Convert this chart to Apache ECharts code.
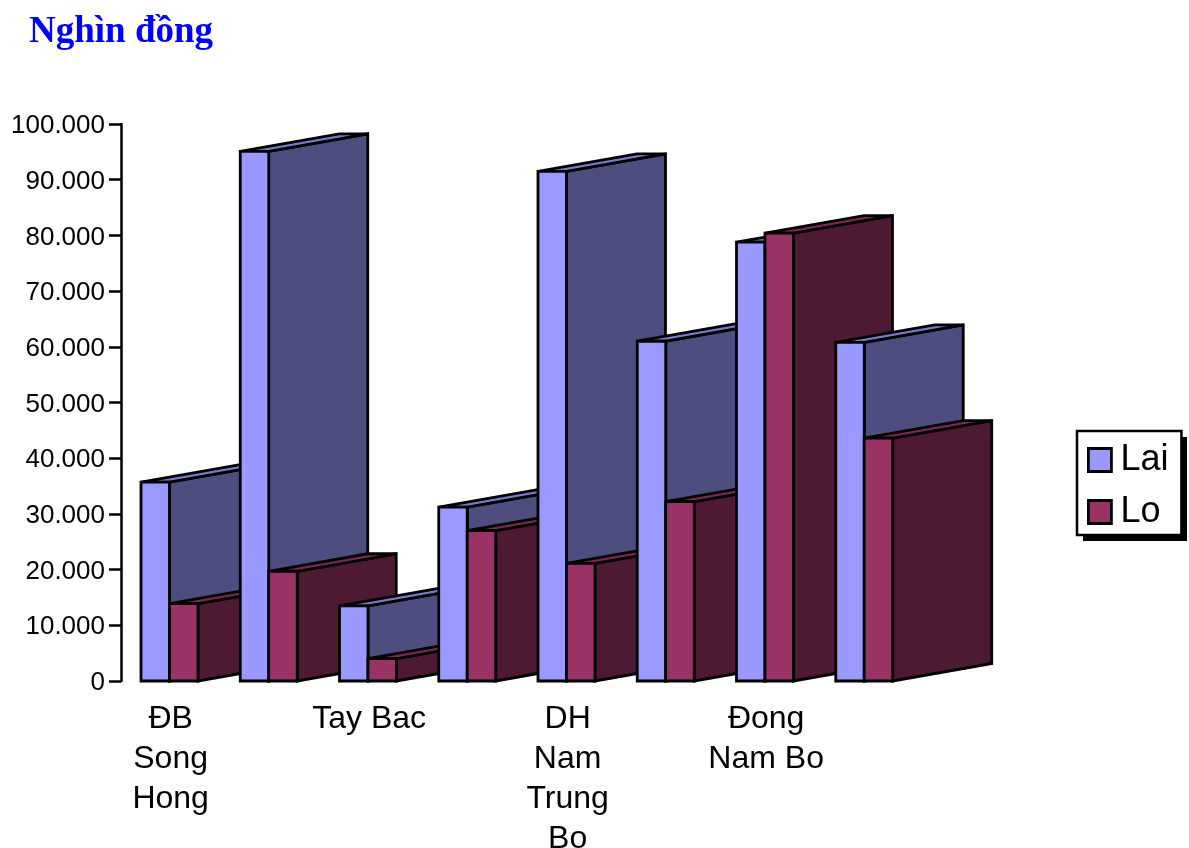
<!DOCTYPE html>
<html>
<head>
<meta charset="utf-8">
<style>html,body{margin:0;padding:0;background:#fff}#chart{width:1189px;height:848px}</style>
<script src="https://cdn.jsdelivr.net/npm/echarts@6/dist/echarts.min.js"></script>
</head>
<body>
<div id="chart"></div>
<script>
// Income per person by region, in thousand dong
const categories = ['ĐB\nSong\nHong', 'Dong Bac', 'Tay Bac', 'Bac Trung Bo', 'DH\nNam\nTrung\nBo', 'Tay Nguyen', 'Đong\nNam Bo', 'ĐB Song Cuu Long'];
const laiValues = [35700, 95100, 13500, 31200, 91500, 61000, 78800, 60800];
const loValues = [13900, 19700, 4000, 27000, 21100, 32200, 80400, 43600];
const yTicks = { min: 0, max: 100000, interval: 10000 };

const laiColors = { front: '#9999ff', side: '#4d4d80', top: '#7a7acc' };
const loColors = { front: '#993366', side: '#4d1933', top: '#7a2952' };

// Share of a category band taken by one bar, and the oblique offset of the extrusion
const BAR_SHARE = 0.287;
const GAP_SHARE = 0.2015;
const DEPTH_X = 99;
const DEPTH_Y = -17.5;
const EDGE = { stroke: '#000', lineWidth: 2.8 };

// Returns the renderItem for a series; seriesPos is its place inside the group
function extrudedBar(colors, seriesPos) {
  return function (params, api) {
    const cat = api.value(0);
    const band = api.size([1, 0])[0];
    const base = api.coord([cat, 0]);
    const head = api.coord([cat, api.value(1)]);
    const w = band * BAR_SHARE;
    const x0 = base[0] - band / 2 + band * GAP_SHARE + w * seriesPos;
    const x1 = x0 + w;
    const yTop = head[1];
    const yBase = base[1];
    const z = (cat * 2 + seriesPos) * 10;
    const poly = (points, fill, order) => ({
      type: 'polygon',
      z2: z + order,
      shape: { points },
      style: Object.assign({ fill }, EDGE)
    });
    return {
      type: 'group',
      children: [
        poly([[x1, yTop], [x1 + DEPTH_X, yTop + DEPTH_Y], [x1 + DEPTH_X, yBase + DEPTH_Y], [x1, yBase]], colors.side, 0),
        poly([[x0, yTop], [x0 + DEPTH_X, yTop + DEPTH_Y], [x1 + DEPTH_X, yTop + DEPTH_Y], [x1, yTop]], colors.top, 1),
        poly([[x0, yTop], [x1, yTop], [x1, yBase], [x0, yBase]], colors.front, 2)
      ]
    };
  };
}

const chart = echarts.init(document.getElementById('chart'), null, { renderer: 'canvas' });
const sansFont = '"Liberation Sans", Arial, sans-serif';

chart.setOption({
  animation: false,
  backgroundColor: '#fff',
  title: {
    text: 'Nghìn đồng',
    left: 29,
    top: 14,
    padding: 0,
    textStyle: { fontFamily: '"Liberation Serif", serif', fontWeight: 'bold', fontSize: 37, color: '#0000ff' }
  },
  legend: {
    orient: 'vertical',
    left: 1077,
    top: 431,
    padding: [11, 13, 5, 10],
    itemWidth: 23,
    itemHeight: 23,
    itemGap: 16,
    icon: 'rect',
    backgroundColor: '#fff',
    borderColor: '#000',
    borderWidth: 2.5,
    z: 5,
    itemStyle: { borderColor: '#000', borderWidth: 2.8 },
    textStyle: { fontFamily: sansFont, fontSize: 36, color: '#000', padding: [0, 0, 0, 4] },
    data: ['Lai', 'Lo']
  },
  // Solid drop shadow behind the legend box
  graphic: [{
    type: 'rect',
    z: 1,
    shape: { x: 1083, y: 437, width: 104, height: 104 },
    style: { fill: '#000' }
  }],
  grid: { left: 121, right: 274, top: 124, bottom: 167, outerBoundsMode: 'none' },
  xAxis: {
    type: 'category',
    data: categories,
    axisLine: { show: false },
    axisTick: { show: false },
    axisLabel: {
      interval: 1,
      margin: 18,
      fontFamily: sansFont,
      fontSize: 32,
      lineHeight: 40,
      color: '#000'
    }
  },
  yAxis: {
    type: 'value',
    min: yTicks.min,
    max: yTicks.max,
    interval: yTicks.interval,
    splitLine: { show: false },
    axisLine: { show: true, lineStyle: { color: '#000', width: 2.5 } },
    axisTick: { show: true, length: 12, lineStyle: { color: '#000', width: 2.5 } },
    axisLabel: {
      margin: 16,
      verticalAlign: 'top',
      lineHeight: 4,
      fontFamily: sansFont,
      fontSize: 26,
      color: '#000',
      formatter: v => v === 0 ? '0' : String(v).replace(/\B(?=(\d{3})+$)/g, '.')
    }
  },
  series: [
    {
      name: 'Lai',
      type: 'custom',
      renderItem: extrudedBar(laiColors, 0),
      itemStyle: { color: laiColors.front },
      encode: { x: 0, y: 1 },
      data: laiValues.map((v, i) => [i, v])
    },
    {
      name: 'Lo',
      type: 'custom',
      renderItem: extrudedBar(loColors, 1),
      itemStyle: { color: loColors.front },
      encode: { x: 0, y: 1 },
      data: loValues.map((v, i) => [i, v])
    }
  ]
});
</script>
</body>
</html>
